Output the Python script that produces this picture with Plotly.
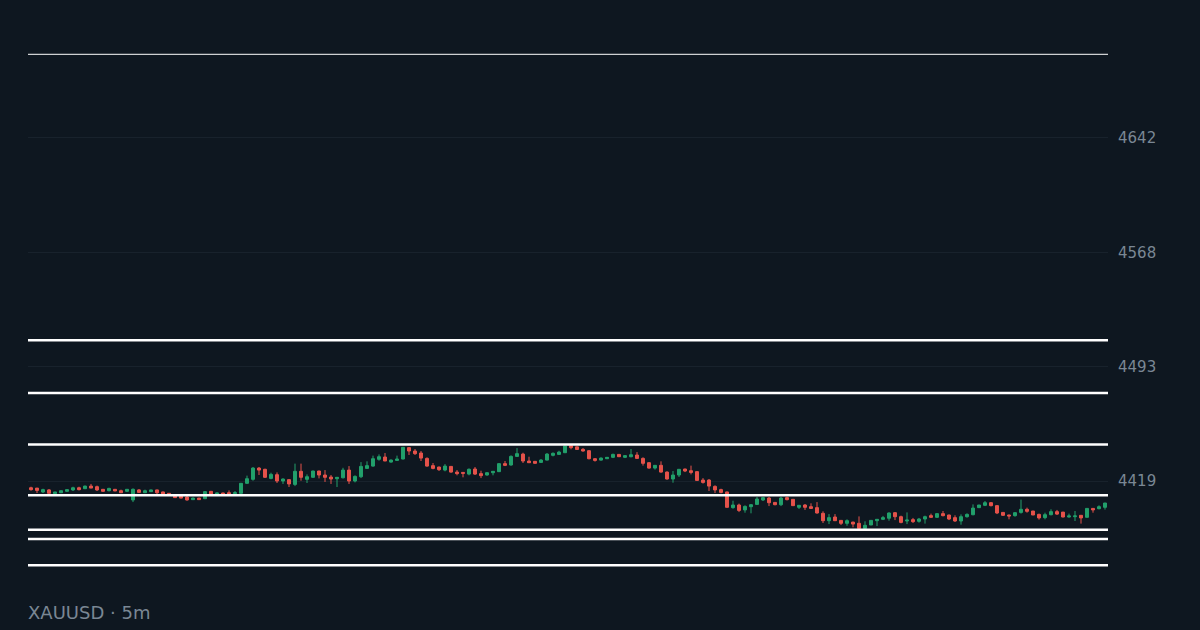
import plotly.graph_objects as go

opens = [4414.6,4414.4,4411.9,4413.2,4410.8,4411.4,4412.3,4413.2,4414.6,4414.0,4415.7,4415.3,4413.6,4412.7,4413.6,4412.7,4412.3,4406.7,4413.2,4411.4,
4412.1,4413.2,4411.9,4411.0,4409.4,4409.2,4408.6,4406.9,4407.9,4407.5,4412.3,4410.5,4411.2,4411.4,4410.8,4411.0,4417.5,4420.1,4427.4,4426.6,
4420.7,4423.1,4419.0,4419.9,4416.8,4425.3,4420.1,4421.4,4425.5,4422.9,4421.6,4420.5,4421.1,4426.1,4419.0,4421.8,4427.2,4428.7,4433.1,4434.6,
4431.3,4432.4,4433.3,4440.7,4438.5,4437.2,4433.7,4429.0,4428.1,4426.1,4428.5,4424.8,4424.6,4423.5,4426.8,4423.8,4422.9,4424.4,4425.1,4430.3,
4429.4,4435.0,4436.5,4432.0,4431.8,4431.1,4432.6,4435.7,4436.3,4437.4,4442.0,4441.2,4439.6,4438.7,4433.5,4432.6,4433.5,4434.4,4436.3,4434.4,
4434.8,4435.9,4433.7,4430.9,4427.4,4429.2,4424.8,4420.3,4422.9,4426.8,4425.7,4425.1,4419.6,4419.6,4415.5,4413.4,4411.9,4401.7,4403.4,4400.2,
4402.3,4403.8,4406.7,4407.9,4405.1,4403.6,4408.2,4407.1,4401.9,4403.4,4402.3,4401.7,4398.0,4393.2,4395.6,4393.4,4391.5,4392.3,4391.5,4388.2,
4390.4,4393.2,4394.1,4394.8,4398.4,4395.8,4393.0,4393.9,4392.8,4394.3,4396.5,4395.4,4397.8,4396.9,4395.2,4393.0,4395.8,4397.1,4401.7,4403.2,
4404.9,4403.0,4398.6,4396.9,4396.5,4398.6,4400.6,4399.5,4397.3,4395.2,4397.1,4399.1,4398.8,4395.6,4395.8,4396.7,4395.4,4401.2,4401.0,4401.9]

highs = [4415.3,4414.4,4414.0,4413.8,4411.9,4412.7,4413.6,4415.3,4415.3,4416.0,4417.1,4416.0,4413.8,4414.6,4413.6,4413.4,4413.8,4414.2,4413.8,4413.4,
4413.4,4413.4,4412.1,4411.2,4409.6,4409.4,4409.2,4408.2,4408.0,4412.3,4412.5,4411.4,4411.4,4412.9,4412.5,4417.7,4422.5,4428.1,4428.1,4427.0,
4424.4,4424.6,4420.7,4420.1,4430.3,4430.3,4423.3,4425.7,4425.7,4426.1,4422.9,4421.6,4427.6,4428.7,4422.7,4431.3,4431.8,4435.5,4436.3,4437.2,
4433.1,4435.5,4441.1,4440.9,4439.8,4438.5,4434.4,4430.7,4428.3,4430.0,4428.7,4426.1,4424.8,4427.2,4428.1,4425.7,4424.8,4425.3,4430.5,4432.0,
4435.7,4440.4,4437.4,4434.8,4431.8,4433.3,4437.2,4437.6,4438.7,4442.0,4442.0,4441.3,4440.4,4439.1,4433.9,4434.4,4434.6,4436.8,4436.5,4435.9,
4439.8,4437.8,4434.4,4431.3,4429.4,4431.8,4425.3,4425.5,4426.8,4427.0,4429.0,4425.3,4420.9,4420.3,4416.2,4414.0,4412.1,4406.2,4404.3,4403.2,
4404.0,4408.6,4408.4,4408.6,4405.3,4408.6,4408.8,4407.3,4403.4,4404.0,4404.5,4405.3,4399.3,4397.5,4397.5,4393.6,4394.1,4392.5,4396.0,4392.8,
4393.4,4394.1,4396.3,4398.6,4398.8,4396.5,4398.6,4395.0,4395.0,4396.5,4397.8,4398.0,4399.5,4397.1,4396.7,4397.3,4398.0,4403.8,4403.4,4406.0,
4405.3,4403.4,4398.6,4397.1,4398.8,4406.9,4401.7,4399.5,4397.8,4398.4,4400.6,4400.2,4398.8,4397.8,4399.5,4396.9,4401.2,4401.4,4403.2,4404.7]

lows = [4412.7,4411.2,4411.2,4411.0,4410.8,4411.4,4412.1,4412.5,4412.9,4413.8,4414.4,4412.5,4412.1,4412.3,4412.5,4411.2,4412.1,4405.3,4411.4,4411.2,
4411.9,4410.5,4410.2,4409.4,4408.0,4407.7,4406.2,4406.7,4406.7,4407.3,4410.3,4410.3,4410.3,4410.3,4410.5,4410.8,4417.1,4419.2,4422.9,4421.1,
4420.1,4417.7,4417.1,4415.1,4415.7,4419.2,4417.7,4421.2,4420.7,4418.4,4417.1,4415.1,4420.7,4417.1,4418.1,4420.9,4427.0,4428.3,4432.2,4432.0,
4430.9,4432.2,4433.1,4435.9,4435.9,4432.0,4428.3,4426.6,4425.5,4425.3,4424.4,4422.7,4421.4,4422.7,4422.9,4420.9,4422.5,4422.7,4424.8,4428.7,
4429.0,4434.8,4430.7,4430.7,4430.3,4430.7,4432.4,4435.0,4436.1,4437.2,4439.6,4439.4,4438.1,4433.1,4431.6,4432.2,4433.3,4433.9,4434.6,4433.9,
4434.4,4433.3,4429.0,4427.0,4426.4,4424.4,4419.9,4417.9,4421.6,4424.8,4423.3,4419.0,4417.3,4412.5,4411.2,4411.0,4401.7,4401.0,4398.8,4398.4,
4398.0,4403.6,4406.0,4402.7,4403.2,4402.7,4406.4,4402.7,4400.8,4400.2,4400.8,4397.8,4391.7,4391.0,4393.0,4390.4,4389.9,4388.9,4388.2,4388.2,
4390.4,4389.7,4393.6,4393.2,4393.6,4391.5,4391.0,4391.7,4391.9,4391.3,4395.0,4395.0,4396.0,4393.6,4392.4,4390.6,4395.2,4396.7,4401.4,4402.7,
4402.5,4397.5,4396.3,4394.1,4395.8,4397.8,4398.4,4396.9,4393.9,4394.1,4396.7,4396.9,4395.4,4395.2,4393.0,4391.3,4395.4,4398.4,4400.6,4400.4]

closes = [4413.4,4412.9,4413.4,4411.0,4411.9,4412.7,4413.4,4414.6,4413.4,4415.7,4414.4,4413.2,4412.3,4414.2,4412.5,4411.4,4413.6,4413.6,4411.6,4412.7,
4413.2,4411.4,4410.5,4409.6,4408.2,4407.9,4406.7,4407.9,4406.9,4412.1,4410.5,4411.2,4410.5,4410.5,4411.4,4417.5,4420.5,4427.4,4426.1,4421.4,
4423.3,4419.0,4420.3,4417.1,4425.3,4421.4,4421.8,4425.5,4422.9,4421.4,4420.3,4421.4,4426.1,4419.0,4422.0,4428.5,4429.0,4433.5,4434.8,4432.0,
4432.6,4433.3,4440.9,4438.5,4436.8,4433.9,4428.7,4427.2,4426.4,4428.7,4424.8,4423.8,4424.0,4426.6,4423.5,4422.5,4424.4,4425.3,4430.3,4429.2,
4435.0,4436.8,4432.0,4430.9,4430.5,4432.6,4436.5,4437.0,4437.8,4441.8,4440.7,4439.5,4438.5,4433.5,4432.4,4433.9,4434.4,4436.3,4434.8,4435.5,
4436.1,4433.7,4430.5,4427.4,4429.2,4424.8,4420.3,4422.9,4426.6,4425.5,4424.6,4419.4,4418.1,4415.7,4413.2,4411.6,4401.9,4403.4,4399.9,4402.5,
4403.6,4407.3,4408.2,4404.9,4403.6,4407.9,4406.9,4403.0,4403.2,4401.9,4401.2,4398.2,4393.2,4395.2,4393.2,4391.5,4393.2,4391.0,4388.2,4390.2,
4393.4,4394.1,4395.2,4398.2,4395.8,4392.1,4393.6,4392.6,4394.3,4395.8,4395.4,4397.8,4396.5,4394.3,4393.0,4395.8,4397.3,4401.4,4403.4,4404.9,
4403.0,4398.2,4396.7,4396.3,4398.4,4400.6,4399.3,4396.9,4395.0,4397.1,4399.1,4397.5,4395.6,4396.3,4396.3,4395.0,4401.2,4400.2,4402.3,4404.7]

level_lines = [4696.4, 4510.5, 4476.2, 4442.7, 4409.7, 4387.3, 4381.3, 4364.2]
level_widths = [1, 2.5, 2.5, 2.5, 2.5, 2.5, 2.5, 2.5]

tick_vals = [4419.0, 4493.3, 4567.7, 4642.0]
tick_text = ["4419", "4493", "4568", "4642"]
y_range = [4344.9, 4716.1]
title_text = "XAUUSD · 5m"

BG = "#0e1720"
GREEN = "#22a06b"
RED = "#e5534b"
TXT = "#7a8794"

xs = list(range(len(opens)))

fig = go.Figure()
fig.add_trace(go.Candlestick(
    x=xs, open=opens, high=highs, low=lows, close=closes,
    increasing=dict(line=dict(color=GREEN, width=1), fillcolor=GREEN),
    decreasing=dict(line=dict(color=RED, width=1), fillcolor=RED),
    whiskerwidth=0, showlegend=False, hoverinfo="skip",
))

for v, w in zip(level_lines, level_widths):
    fig.add_shape(type="line", xref="paper", x0=0, x1=1, yref="y", y0=v, y1=v,
                  line=dict(color="#ffffff", width=w), layer="above")

fig.add_annotation(text=title_text, xref="paper", yref="paper", x=0, y=-0.03,
                   xanchor="left", yanchor="middle", showarrow=False, xshift=-2,
                   font=dict(family="DejaVu Sans", size=18, color=TXT))

fig.update_layout(
    width=1200, height=630,
    margin=dict(l=28, r=92, t=24, b=35),
    paper_bgcolor=BG, plot_bgcolor=BG,
    font=dict(family="DejaVu Sans", color=TXT),
    xaxis=dict(range=[-0.5, len(opens) - 0.5], showgrid=False, zeroline=False,
               showticklabels=False, rangeslider=dict(visible=False), showline=False),
    yaxis=dict(range=y_range, side="right", tickvals=tick_vals, ticktext=tick_text,
               showgrid=True, gridcolor="#18222c", gridwidth=1, zeroline=False,
               showline=False, ticks="", ticklabelstandoff=9,
               tickfont=dict(family="DejaVu Sans", size=15, color=TXT)),
)

fig.write_html(
    "out.html",
    config={"displayModeBar": False},
    post_script="document.body.style.margin='0';document.body.style.background='" + BG + "';",
)
